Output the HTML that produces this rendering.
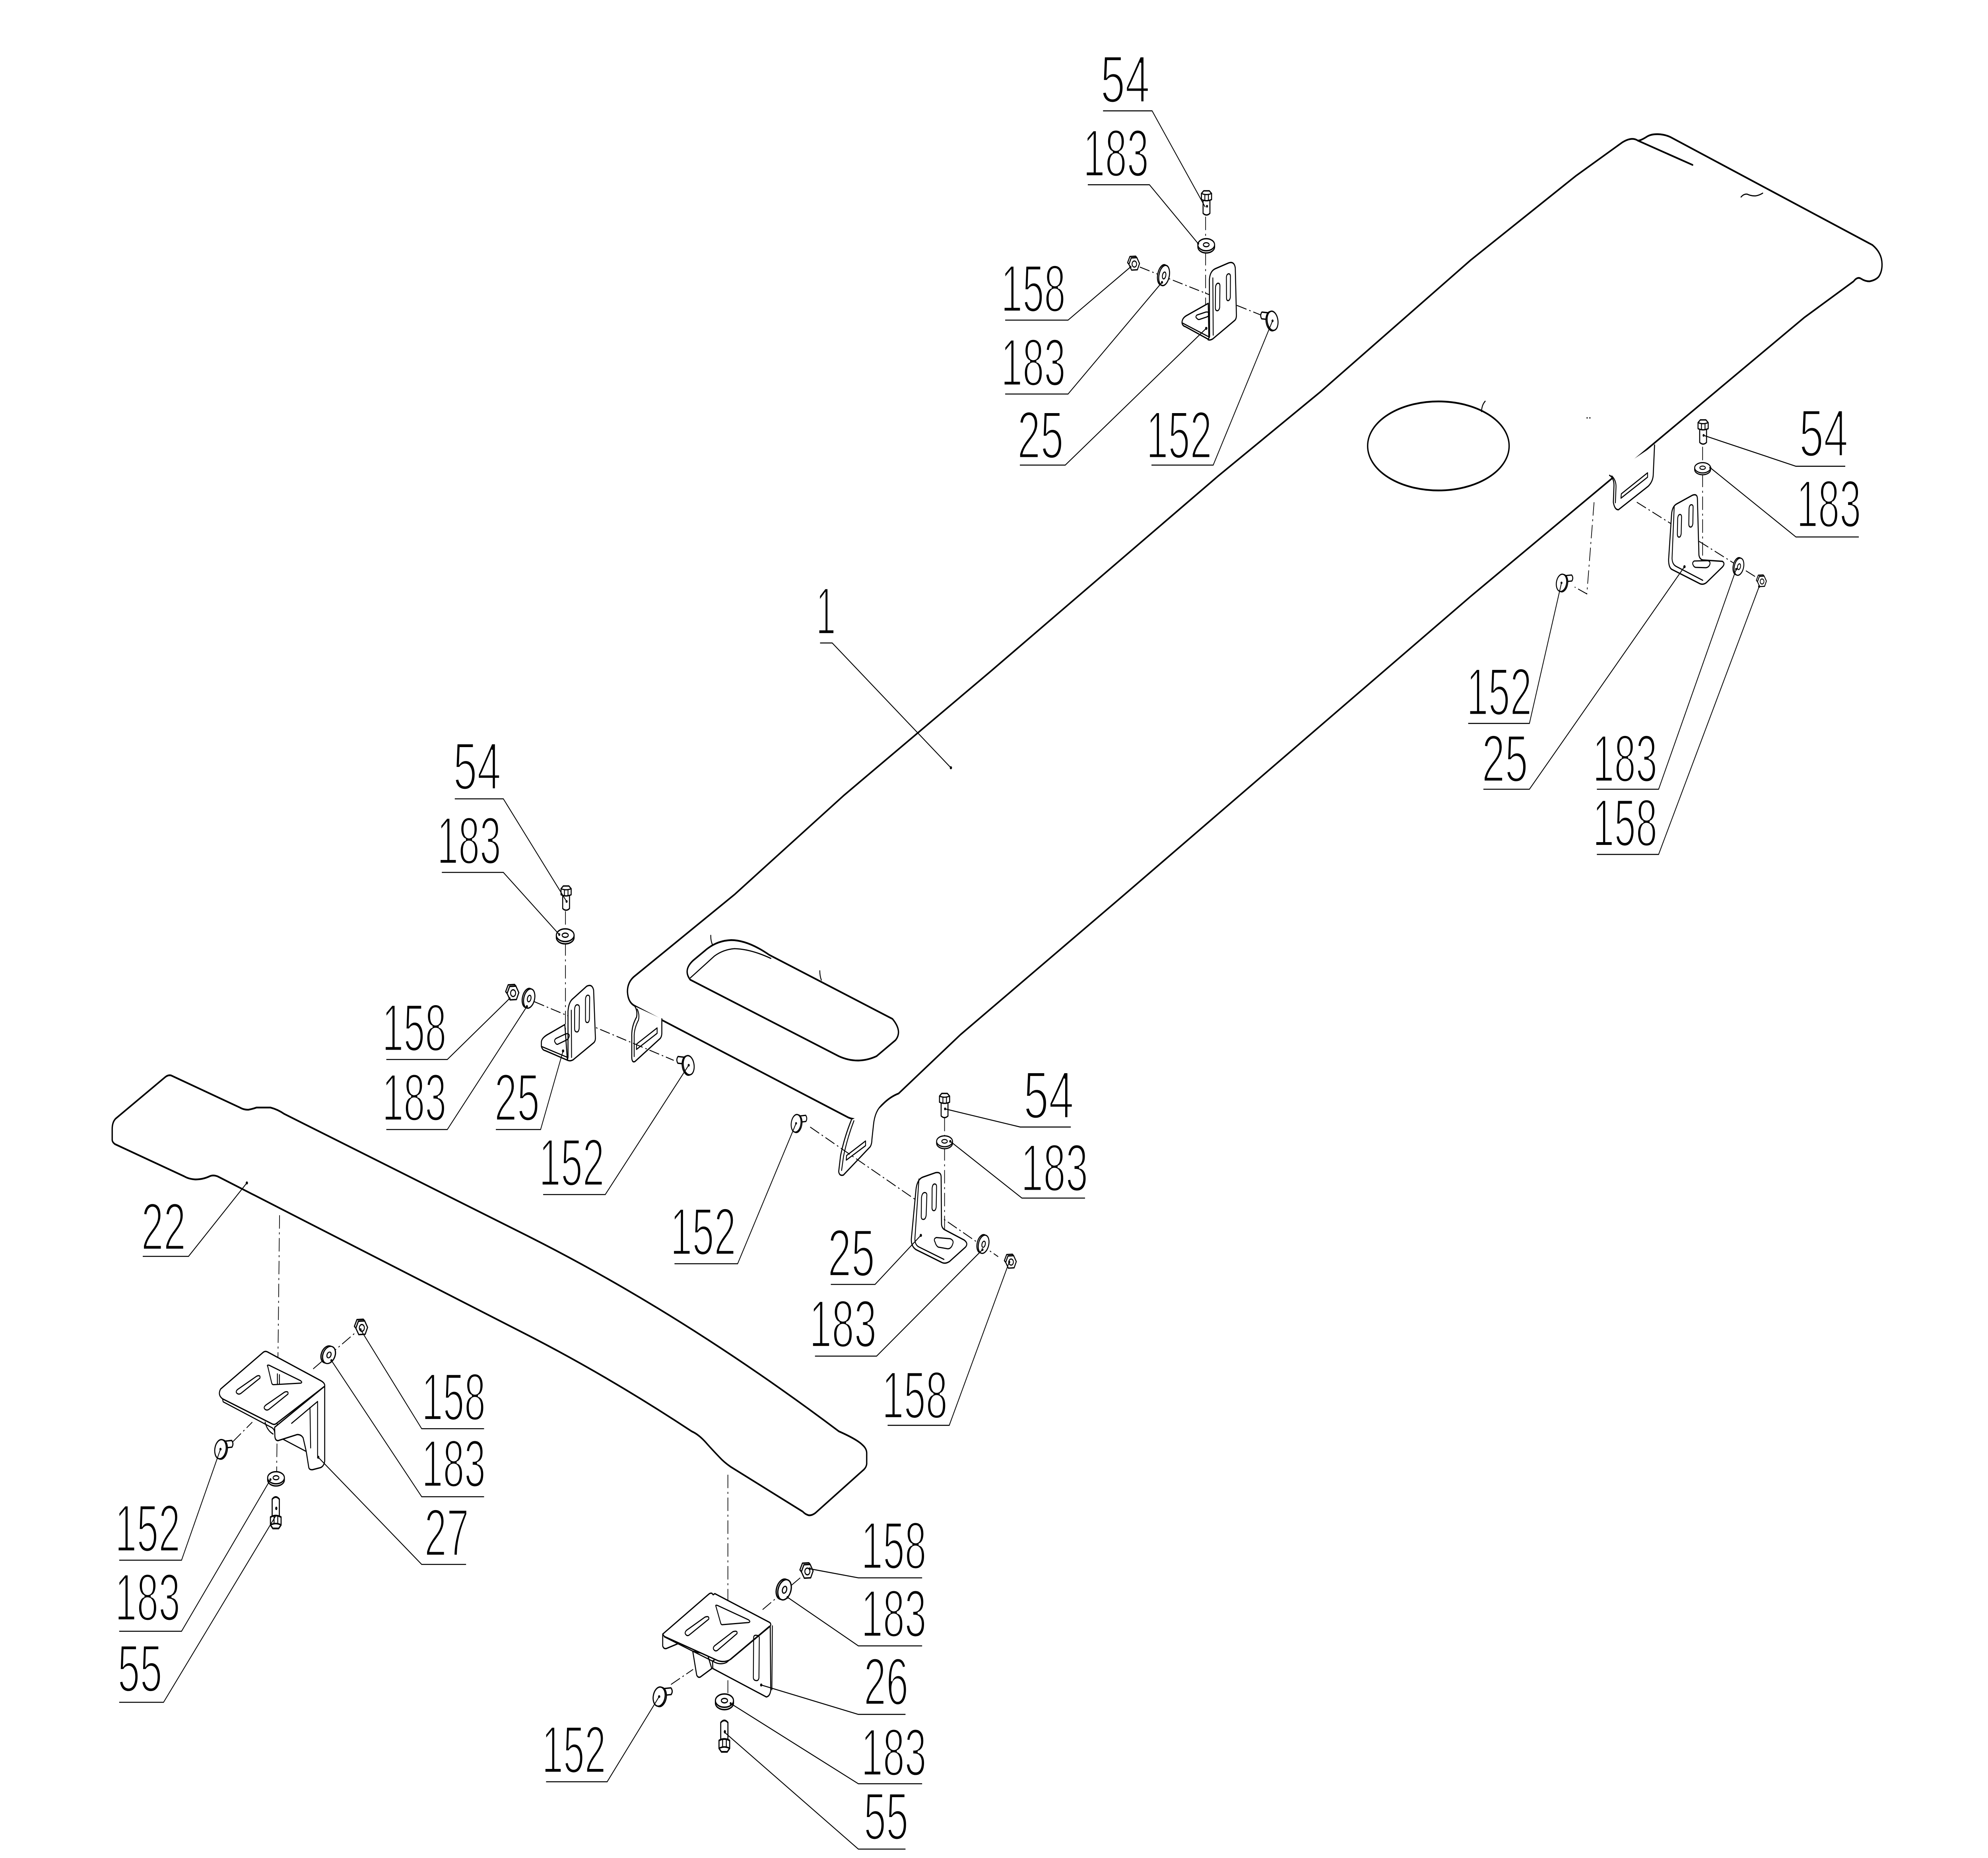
<!DOCTYPE html>
<html><head><meta charset="utf-8"><style>
html,body{margin:0;padding:0;background:#fff;overflow:hidden;width:100%;height:100%;}
svg#main{display:block;position:fixed;left:0;top:0;width:100vw;height:100vh;}
text{font-family:"Liberation Sans","DejaVu Sans",sans-serif;font-size:40px;fill:#000;stroke:#fff;stroke-width:1.35px;}
.o{fill:none;stroke:#000;stroke-width:1.05;stroke-linejoin:round;stroke-linecap:round;}
.p{fill:#fff;stroke:#000;stroke-width:0.8;stroke-linejoin:round;stroke-linecap:round;}
.q{fill:none;stroke:#000;stroke-width:0.7;stroke-linejoin:round;stroke-linecap:round;}
.l{fill:none;stroke:#000;stroke-width:0.6;}
.d{fill:none;stroke:#000;stroke-width:0.55;stroke-dasharray:8 2.2 1.2 2.2;}
.k{fill:#000;stroke:none;}
</style></head><body>
<svg id="main" xmlns="http://www.w3.org/2000/svg" viewBox="0 0 1568 1106.2" preserveAspectRatio="none">
<defs>
 <g id="hb">
  <path class="p" d="M-2.7,5.6 L-2.7,13.4 Q0,15.4 2.7,13.4 L2.7,5.6 Z"/>
  <path class="p" d="M-4,1.6 L-2.2,0 L2.2,0 L4,1.6 L4,5.2 Q0,6.6 -4,5.2 Z"/>
  <path class="q" d="M-4,1.6 Q0,2.9 4,1.6 M-1.3,2.5 L-1.3,5.8 M1.5,2.5 L1.5,5.8"/>
  <circle class="k" cx="0.4" cy="9.2" r="0.8"/>
 </g>
 <g id="wh">
  <path class="p" d="M-6.6,0 L-6.6,1.3 A6.6,3.6 0 0 0 6.6,1.3 L6.6,0 Z"/>
  <ellipse class="p" rx="6.6" ry="3.6"/>
  <ellipse class="q" rx="2.3" ry="1.2"/>
 </g>
 <g id="wv">
  <g transform="rotate(18)">
   <ellipse class="p" cx="-1.1" rx="4" ry="6.2"/>
   <ellipse class="p" rx="4" ry="6.2"/>
   <ellipse class="q" rx="1.3" ry="2.1"/>
  </g>
 </g>
 <g id="nut">
  <path class="p" d="M-4.4,0.2 L-5.5,-0.9 L-3.6,-4.7 L1.2,-4.9 L2.2,-4 L-2.5,-3.8 Z"/>
  <path class="p" d="M-2.5,-3.8 L2.2,-4 L4.4,-0.3 L2.6,3.6 L-2.2,3.8 L-4.4,0.2 Z"/>
  <circle class="q" cx="0.1" cy="0" r="1.9"/>
 </g>
 <g id="fb">
  <path class="p" d="M-1.5,-4.6 L-8.4,-5.2 Q-10.2,-3.3 -8.6,-1.2 L-1.5,-0.6 Z"/>
  <ellipse class="p" cx="-0.9" rx="4.2" ry="5.8" transform="rotate(-15)"/>
  <ellipse class="p" rx="4.2" ry="5.8" transform="rotate(-15)"/>
  <circle class="k" cx="0" cy="0" r="0.8"/>
 </g>
</defs>

<!-- ===== LABEL TEXT ===== -->
<text x="868" y="61" textLength="38.9" lengthAdjust="spacingAndGlyphs">54</text>
<text x="854.3" y="105" textLength="51.8" lengthAdjust="spacingAndGlyphs">183</text>
<text x="789.5" y="185.6" textLength="51" lengthAdjust="spacingAndGlyphs">158</text>
<text x="789.5" y="229.6" textLength="51" lengthAdjust="spacingAndGlyphs">183</text>
<text x="802.4" y="272.8" textLength="36.5" lengthAdjust="spacingAndGlyphs">25</text>
<text x="904.1" y="272.8" textLength="51.8" lengthAdjust="spacingAndGlyphs">152</text>
<text x="1419.1" y="271.7" textLength="38.6" lengthAdjust="spacingAndGlyphs">54</text>
<text x="1417" y="313.8" textLength="50.9" lengthAdjust="spacingAndGlyphs">183</text>
<text x="1156.7" y="425.7" textLength="51.5" lengthAdjust="spacingAndGlyphs">152</text>
<text x="1168.8" y="465.4" textLength="36.4" lengthAdjust="spacingAndGlyphs">25</text>
<text x="1256.2" y="465.4" textLength="51" lengthAdjust="spacingAndGlyphs">183</text>
<text x="1256.2" y="503.7" textLength="51" lengthAdjust="spacingAndGlyphs">158</text>
<text x="357.5" y="470" textLength="37.7" lengthAdjust="spacingAndGlyphs">54</text>
<text x="344.7" y="514.3" textLength="50.5" lengthAdjust="spacingAndGlyphs">183</text>
<text x="301.4" y="625.7" textLength="50.7" lengthAdjust="spacingAndGlyphs">158</text>
<text x="301.4" y="667.2" textLength="50.7" lengthAdjust="spacingAndGlyphs">183</text>
<text x="389.9" y="667.2" textLength="35.8" lengthAdjust="spacingAndGlyphs">25</text>
<text x="425.1" y="705.9" textLength="51.6" lengthAdjust="spacingAndGlyphs">152</text>
<text x="528.7" y="747.1" textLength="51.8" lengthAdjust="spacingAndGlyphs">152</text>
<text x="807.3" y="665.8" textLength="39.7" lengthAdjust="spacingAndGlyphs">54</text>
<text x="805.2" y="709.1" textLength="53" lengthAdjust="spacingAndGlyphs">183</text>
<text x="652.8" y="759.8" textLength="37.3" lengthAdjust="spacingAndGlyphs">25</text>
<text x="638.3" y="802" textLength="53.1" lengthAdjust="spacingAndGlyphs">183</text>
<text x="695.6" y="844.4" textLength="51.8" lengthAdjust="spacingAndGlyphs">158</text>
<text x="643.6" y="377.6" textLength="15.6" lengthAdjust="spacingAndGlyphs">1</text>
<text x="111.4" y="744.1" textLength="35.2" lengthAdjust="spacingAndGlyphs">22</text>
<text x="332.6" y="845.5" textLength="50.4" lengthAdjust="spacingAndGlyphs">158</text>
<text x="332.6" y="885.2" textLength="50.4" lengthAdjust="spacingAndGlyphs">183</text>
<text x="334.7" y="926.3" textLength="35.2" lengthAdjust="spacingAndGlyphs">27</text>
<text x="90.7" y="923.7" textLength="51.5" lengthAdjust="spacingAndGlyphs">152</text>
<text x="90.7" y="964.8" textLength="51.5" lengthAdjust="spacingAndGlyphs">183</text>
<text x="92.8" y="1007.1" textLength="35.2" lengthAdjust="spacingAndGlyphs">55</text>
<text x="679.2" y="934" textLength="51.5" lengthAdjust="spacingAndGlyphs">158</text>
<text x="679.2" y="974.5" textLength="51.5" lengthAdjust="spacingAndGlyphs">183</text>
<text x="681.3" y="1015" textLength="35.2" lengthAdjust="spacingAndGlyphs">26</text>
<text x="679.2" y="1057.1" textLength="51.5" lengthAdjust="spacingAndGlyphs">183</text>
<text x="681.3" y="1095.2" textLength="35.2" lengthAdjust="spacingAndGlyphs">55</text>
<text x="427.4" y="1055.5" textLength="50.5" lengthAdjust="spacingAndGlyphs">152</text>

<!-- ===== PART 1 : main panel ===== -->
<path class="o" d="M501,599 L669,665.3 Q679,668.5 690,662 L696.4,657.3 Q702,653 708.8,651 L757.4,616.1 L886.9,532.6 L1159.9,355.1 L1304.8,263.8 L1423,189.1 L1462,167.5 Q1465,164.5 1467.8,165.9 Q1471,167.5 1474.5,167.5 Q1479.5,166.8 1481.9,164.6 Q1484.6,161.5 1484.4,157 Q1484.2,150.5 1476.9,145.9 L1317.5,81.6 Q1313,80 1307.6,79.9 Q1302.5,79.8 1299.3,81.2 Q1294,83.8 1291.8,83.7 Q1287,81.2 1279.3,84.9 L1242.8,104.8 L1159.9,154.9 L1041.6,233.2 L960.5,283.6 L781.2,399.8 L665.8,473.4 L579.3,532.6 L500,581.5 Q494.8,585 494.9,590.5 Q495.3,597 501,599 Z"/>
<path class="o" d="M1291.8,83.7 L1335,98.2"/>
<path class="q" d="M1373.2,117.3 Q1375.5,115.3 1378.1,115.6 Q1381.5,116.8 1384.8,116.6 Q1387.5,116.3 1390.3,115"/>
<ellipse class="o" cx="1134.5" cy="265.5" rx="55.8" ry="26.5"/>
<path class="q" d="M1168.5,245 Q1168.8,241 1171.4,238.9"/>
<circle class="k" cx="1251.8" cy="248.8" r="0.45"/><circle class="k" cx="1254" cy="248.8" r="0.45"/>
<path class="o" d="M544.4,583.3 L661.5,628.8 Q676.5,634 691.4,628.8 L706.3,619.3 Q712,614 703.9,606.6 L606.7,568.5 Q590,559.8 576.8,559.7 Q565,560 556,566 L546.9,571.7 Q538.5,577.5 544.4,583.3 Z"/>
<path class="q" d="M544.5,582.2 L563.5,569.2 Q570.5,565.3 579.3,564.8 Q592,565 608,570.6"/>
<path class="q" d="M560.6,556.9 Q560.5,560 561.9,562.4 M646.6,578 Q646.6,581 647.8,583.5"/>
<path class="p" d="M500.8,599.2 Q503,602 502.1,605.5 Q498,611 498.3,617.2 L498.3,629.8 Q498.5,632.8 500.8,632 L520.8,618.2 Q522,617 522,615 L522,606.6"/>
<path class="q" d="M502,624.8 L502.1,621.6 L518.3,612 L518.3,615.2 Z M502.6,600.8 Q504.6,604 503.6,607.3 Q500,612.5 500.2,617.5 L500.2,629"/>
<path class="p" d="M671.5,666.8 Q666,677 663,688 L661.5,697.5 Q662,700.3 665.2,699.6 L686.4,682.7 Q687.7,681 687.7,678.4 L688.9,670 Q690,661 696.4,657.3"/>
<path class="q" d="M667.5,690.7 L667.7,688 L682.7,679.3 L682.7,682.1 Z M673.5,667.3 Q668.3,677.5 665.3,688.5 L663.8,696.8"/>
<path class="p" d="M1269.5,283 Q1273,284.5 1273,289 L1272.5,299 Q1273.5,303.5 1276.5,303.5 L1300,289.5 Q1304,286.5 1304,282 L1305,265"/>
<path class="q" d="M1278.5,296.6 L1278.8,294 L1299.5,281.5 L1299.5,284.1 Z M1271.3,283.4 Q1274.8,286 1274.6,290 L1274.1,299.3"/>
<circle class="k" cx="750" cy="457.1" r="0.9"/>

<!-- ===== PART 22 : bar ===== -->
<path class="o" d="M90.7,681.2 Q88.5,680 88.5,678.6 L88.5,672.2 Q88.5,667.5 92,665.5 L130.1,641.4 Q132.5,639.8 135,640.3 L189.2,659.4 Q192,660.7 195.8,660.7 Q199,660.3 202.3,659.4 L213.3,659.4 Q219,660.5 224.2,663.2 L414.2,735.1 Q537.4,781.7 661.7,852.2 Q676,857 680.3,860.3 Q683.6,862.5 683.6,865.2 L683.6,871.6 Q683.3,873.5 681.4,874.9 L643.1,900.8 Q640,902.5 637.6,902.1 Q635,901.5 633.2,900 L576.3,873.3 Q571,870.5 567.5,867.6 Q561,862.5 556.6,858.7 Q551,854 545.6,852.2 Q479.5,819.3 414.2,794.1 L171.7,700.4 Q168,699.3 165.1,700.4 Q160,702.2 154.2,702.2 Q149,702 145.4,700.4 Z"/>
<circle class="k" cx="194.7" cy="704.3" r="0.9"/>

<!-- ===== DASH-DOT LINES ===== -->
<path class="d" d="M950.9,129 L950.9,141.5 M950.9,150 L950.9,189"/>
<path class="d" d="M899,159 L954,175.5 M975.5,181.8 L996,188"/>
<path class="d" d="M1342.9,266 L1342.9,275 M1342.9,282 L1342.9,334"/>
<path class="d" d="M1291,299 L1388,345"/>
<path class="d" d="M1257.3,299 L1251.6,353.6 L1242,349.5"/>
<path class="d" d="M446,542.5 L446,552.6 M446,561 L446,619"/>
<path class="d" d="M421.5,596.4 L531.4,631.3"/>
<path class="d" d="M745,665.5 L745,676 M745,683 L745,742"/>
<path class="d" d="M639,671 L787.3,748.2"/>
<path class="d" d="M220.5,723.5 L218.1,884"/>
<path class="d" d="M247,815 L281,793"/>
<path class="d" d="M183.7,858.3 L199,846.7"/>
<path class="d" d="M574.1,878 L574.1,1008"/>
<path class="d" d="M601.5,958.3 L633.2,938.1"/>
<path class="d" d="M529.2,1002.9 L546.7,993.9"/>

<!-- ===== BRACKETS 25 ===== -->
<g>
 <path class="p" d="M953,180.6 L935.6,188 Q932.2,189.6 932.3,192.2 Q932.6,194 935,194.5 L953.5,202.2 Z"/>
 <path class="p" d="M954,200.5 L953.9,166.5 Q954.3,161.5 958.5,160 L968.9,156.6 Q973.5,155.3 974.3,159.5 L975.2,187.5 Q975.3,190 973.5,191 L956.5,201.8 Q954.2,202.8 952.8,202.2 Z"/>
 <path class="q" d="M956.6,165.5 L956.9,199.5 M932.3,192.2 L952.8,200.3"/>
 <path class="q" d="M958.7,171 Q959,169 960.6,168.6 Q962.2,168.6 962.2,170.2 L962,183 Q961.6,184.8 960.2,185 Q958.6,185 958.6,183.4 Z"/>
 <path class="q" d="M967.3,165 Q967.5,163.3 969,163 Q970.5,163 970.5,164.6 L970.4,177 Q970,178.8 968.7,179 Q967.4,179 967.4,177.4 Z"/>
 <path class="q" d="M944,189.5 Q942.5,188.8 944,187.6 L951,185.8 Q953.8,185.5 953.6,187 Q953.4,188.4 951.5,188.8 L946,190.2 Q944.8,190.4 944,189.5 Z"/>
 <circle class="k" cx="951.4" cy="195.5" r="0.9"/>
</g>
<g>
 <path class="p" d="M1318.4,338.9 Q1316,337.5 1316.1,333 L1318.4,306.5 Q1318.8,301.5 1322.5,300 L1335,294.8 Q1338.8,293.8 1338.8,297 L1340,330.5 Q1340.6,333 1343,333.4 L1358.5,334.2 Q1361,335.5 1358.5,337.6 L1346,346.8 Q1343.5,348.3 1341,347.6 Z"/>
 <path class="q" d="M1320.5,301.5 L1318.8,332.5 Q1319,336 1322,337.2 L1343,345.5"/>
 <path class="q" d="M1323.2,309 Q1323.4,306.5 1325,306.3 Q1326.4,306.3 1326.3,308 L1326,317.7 Q1325.6,319.8 1324.3,319.8 Q1323,319.7 1323,318 Z"/>
 <path class="q" d="M1332.2,303 Q1332.4,300.6 1334,300.5 Q1335.5,300.5 1335.4,302 L1335.2,311.7 Q1334.8,313.8 1333.4,313.8 Q1332,313.7 1332,312 Z"/>
 <path class="q" d="M1335.5,336.5 Q1334.3,335 1336.3,334 L1347,333.8 Q1349.3,334.3 1348.6,336 Q1347.8,337.8 1345.5,338 L1337.5,337.8 Q1336.2,337.7 1335.5,336.5 Z"/>
 <circle class="k" cx="1328.6" cy="337.4" r="0.9"/>
</g>
<g>
 <path class="p" d="M445.5,610 L431.3,616.2 Q427,618.3 427,620.5 L427,623 Q427.8,625.2 430,625.5 L447.5,631.2 Z"/>
 <path class="p" d="M448,629.5 L448,602.1 Q448.5,596.5 452,594.5 L462.7,587.2 Q467,585.5 468.2,589.5 L469.6,617.5 Q469.8,620 468,621 L452,631 Q449.5,632 447.5,631.2 Z"/>
 <path class="q" d="M450.6,601.5 L450.8,629.5 M427,623 L447.5,629.5"/>
 <path class="q" d="M453.2,601 Q453.4,598.4 455.2,598.2 Q457,598.2 457,600 L456.8,612.3 Q456.4,614.4 455,614.4 Q453.2,614.3 453.2,612.4 Z"/>
 <path class="q" d="M461.8,595 Q462,592.7 463.6,592.5 Q465.2,592.5 465.1,594.2 L464.9,606.7 Q464.6,608.8 463.2,608.8 Q461.8,608.7 461.8,607 Z"/>
 <path class="q" d="M438,620.8 Q436.6,619.5 438.5,618.3 L446,615.6 Q449.2,615 449,616.8 Q448.8,618.3 446.8,619.2 L440,621.7 Q438.8,622 438,620.8 Z"/>
 <circle class="k" cx="444.1" cy="625.7" r="0.9"/>
</g>
<g>
 <path class="p" d="M722.5,744 Q718.5,742 718.8,737.6 L722.5,708 Q723.5,702 728,700.8 L737.8,698.2 Q742,697.5 742.3,700.5 L742.6,729 Q743,731.5 745.5,732.3 L760.5,738.3 Q764,740.3 761.5,742.5 L749,751 Q745.5,752.8 742.5,751.5 Z"/>
 <path class="q" d="M724.8,702 L721.6,737.5 Q721.6,741 724.5,742.3 L744.5,749.8"/>
 <path class="q" d="M726.8,713 Q727.3,710.2 729.2,710 Q731.3,710 731,712 L730.5,723.5 Q730,726 728.3,726 Q726.5,726 726.6,724 Z"/>
 <path class="q" d="M735.2,707.5 Q735.5,705 737.1,704.9 Q738.8,704.9 738.7,706.7 L738.4,718.6 Q738,720.8 736.5,720.8 Q735,720.7 735.1,718.8 Z"/>
 <path class="q" d="M737.5,739.5 Q736,737.5 738.5,736.8 L749.5,737.5 Q752.5,738.5 751.5,740.5 Q750.3,743.5 747.5,743.5 L740,742.5 Q738.3,741.7 737.5,739.5 Z"/>
 <circle class="k" cx="726.3" cy="735.5" r="0.9"/>
</g>

<!-- ===== BRACKET 27 ===== -->
<g>
 <path class="p" d="M256.1,825.3 L256.1,869.9 Q255.5,873 252.7,873.8 L246.6,875 Q243.8,875.2 243.5,873.5 L241.5,864 L239.1,856.1 Q237.5,854 234.4,854.1 L219.4,857.7 Q217,857.8 216.8,855 L216.6,849.8 Z"/>
 <path class="p" d="M175.5,832.8 Q171.5,830.5 174,827 L207.5,805.2 Q209.1,804.2 211,804.9 L253,822 Q256.5,823.5 256.1,825.3 L217.8,847.6 Q216.5,848.4 214.8,847.8 Z"/>
 <path class="q" d="M175.5,832.8 L176,834.6 L214.5,850 Q216.5,851 216.6,853"/>
 <path class="q" d="M230,847.4 L250.5,834.4 L250.5,866.8 M244.5,838 L245,862 M223.3,856.9 L241.1,864"/>
 <path class="q" d="M209.1,846.7 Q210.5,851.5 215.4,853.8"/>
 <path class="q" d="M187,829.6 Q185.4,828.6 187.5,827.2 L202.5,819.3 Q205.6,818.4 205,820.5 L190,829.6 Q188.3,830.4 187,829.6 Z"/>
 <path class="q" d="M209.1,839.1 Q207.4,838 209.6,836.6 L224.5,828.8 Q227.8,828 227.1,830 L212.1,839.1 Q210.4,839.9 209.1,839.1 Z"/>
 <path class="q" d="M211.2,813.6 Q210.2,812.5 212.2,812.8 L237,822 Q239,823.2 237,823.5 L215.6,824.4 Q214.6,824.3 214.3,823.4 Z"/>
 <path class="q" d="M218.8,818 L218.8,824 M220.4,818.5 L220.4,824"/>
 <circle class="k" cx="251" cy="867.6" r="0.9"/>
</g>

<!-- ===== BRACKET 26 ===== -->
<g>
 <path class="p" d="M546.4,983.1 L549.5,997.3 Q550.5,999 552.3,998.5 L561.4,993.4 L558,985 Z"/>
 <path class="p" d="M607.5,966.2 L607.9,1006.4 Q607.2,1010 604.4,1010.3 L562.2,993.4 L562,989 Z"/>
 <path class="p" d="M522.7,972.9 L522.7,980 Q523.5,981.8 525.5,981.5 L535.3,978.4 L530,975 Z"/>
 <path class="p" d="M522.7,972.9 L558.9,949.2 Q560.2,948.3 561.5,948.6 L562.5,949.5 L563.8,948.8 L606.7,965.8 Q609,967 607,968.5 L576.5,987.8 Q572,990 566.5,988.8 L524,974.3 Z"/>
 <path class="q" d="M523.9,974.5 L564.1,989.8 Q568.5,991.3 573,989.8 L606.9,968.2 M609.2,968 L608.8,1006"/>
 <path class="q" d="M594.4,975 Q594.5,973.7 595.8,973.6 Q598.8,973.5 598.9,975 L598.6,999 Q598.2,1000.6 596.8,1000.6 Q594.4,1000.5 594.2,999 Z"/>
 <path class="q" d="M541,973.2 Q539.6,972.2 541.4,970.7 L556,962.8 Q559.6,961.8 559,964 L543.5,973.5 Q542,974.2 541,973.2 Z"/>
 <path class="q" d="M563.2,982.3 Q561.8,981.2 563.7,979.8 L578,971.5 Q581.9,970.5 581.3,972.6 L565.8,982.6 Q564.2,983.3 563.2,982.3 Z"/>
 <path class="q" d="M564.7,956.4 Q564,955.4 565.8,955.8 L590.4,964.4 Q592.5,965.6 590.4,966 L569.5,967.3 Q568.7,967.2 568.4,966.3 Z"/>
 <circle class="k" cx="600.4" cy="1003.2" r="0.9"/>
</g>

<!-- ===== SMALL PARTS ===== -->
<use href="#hb" transform="translate(951.6,113.6)"/>
<use href="#hb" transform="translate(1343.3,250)"/>
<use href="#hb" transform="translate(446.5,527.5)"/>
<use href="#hb" transform="translate(745,651)"/>
<use href="#hb" transform="translate(217.5,910) scale(1.05,-1.3)"/>
<use href="#hb" transform="translate(571.3,1043) scale(1.05,-1.3)"/>
<use href="#wh" transform="translate(951.4,145.7)"/>
<use href="#wh" transform="translate(1342.9,278.5) scale(0.95,0.85)"/>
<use href="#wh" transform="translate(445.8,556.8) scale(1.06,1.05)"/>
<use href="#wh" transform="translate(745,679.5) scale(0.95,0.9)"/>
<use href="#wh" transform="translate(217.7,879.8)"/>
<use href="#wh" transform="translate(571.4,1012.5) scale(1.08,1.1)"/>
<use href="#wv" transform="translate(918.2,164)"/>
<use href="#wv" transform="translate(1371.6,337.4) scale(0.9,0.85)"/>
<use href="#wv" transform="translate(417.4,594.5) scale(1.05,0.95)"/>
<use href="#wv" transform="translate(775.8,740.8) scale(1,0.9)"/>
<use href="#wv" transform="translate(259.5,806.7) scale(1.2,0.85)"/>
<use href="#wv" transform="translate(618.8,946.5) scale(1.25,1)"/>
<use href="#nut" transform="translate(894.6,157.2) scale(0.95)"/>
<use href="#nut" transform="translate(1389.7,346.2) scale(0.8)"/>
<use href="#nut" transform="translate(404.6,591.3) scale(1.05)"/>
<use href="#nut" transform="translate(797.4,751.4) scale(0.95)"/>
<use href="#nut" transform="translate(285.3,790.6) scale(1.05)"/>
<use href="#nut" transform="translate(636.7,935.6) scale(1.05)"/>
<use href="#fb" transform="translate(1003.7,191)"/>
<use href="#fb" transform="translate(543.2,634.2)"/>
<use href="#fb" transform="translate(1231.6,347) scale(-0.95,0.9)"/>
<use href="#fb" transform="translate(627.9,668.8) scale(-0.9,0.92)"/>
<use href="#fb" transform="translate(173.9,862.8) scale(-1.05,1)"/>
<use href="#fb" transform="translate(519.9,1010.1) scale(-1.1,1)"/>

<!-- ===== LEADERS ===== -->
<g class="l">
 <path d="M870,66 L908.7,66 L950.6,123.3"/>
 <path d="M858,110 L906.6,110 L945,145"/>
 <path d="M792.8,190.6 L842.4,190.6 L891.6,159"/>
 <path d="M792.8,234.6 L842.4,234.6 L916.5,168.1"/>
 <path d="M804.4,276.9 L840.2,276.9 L951.4,195.5"/>
 <path d="M908.2,276.9 L956.9,276.9 L1003.7,191"/>
 <path d="M1455.4,277.6 L1416.5,277.6 L1343.7,259.2"/>
 <path d="M1466.1,319.7 L1416.5,319.7 L1349,278.5"/>
 <path d="M1158,430.7 L1206.3,430.7 L1231.6,347"/>
 <path d="M1170,469.9 L1206.3,469.9 L1328.6,337.4"/>
 <path d="M1259.5,469.9 L1308.2,469.9 L1369.4,338.9"/>
 <path d="M1259.5,508.7 L1308.2,508.7 L1387.5,349.2"/>
 <path d="M358.7,475.6 L397,475.6 L446.9,536.7"/>
 <path d="M348.5,519.4 L397,519.4 L441.1,556.4"/>
 <path d="M304.7,630.8 L352.8,630.8 L401.9,594.5"/>
 <path d="M304.7,672.5 L352.8,672.5 L415.6,599.2"/>
 <path d="M391.1,672.5 L426.4,672.5 L444.1,625.7"/>
 <path d="M428.4,711.2 L477.4,711.2 L543.2,634.2"/>
 <path d="M532,752.4 L581.8,752.4 L627.9,668.8"/>
 <path d="M844.6,671 L804.7,671 L745.4,660.2"/>
 <path d="M855.8,713.3 L806,713.3 L749.5,679.5"/>
 <path d="M655.3,764.7 L690.2,764.7 L726.3,735.5"/>
 <path d="M642.8,807.4 L691.4,807.4 L774.9,744"/>
 <path d="M700.1,848.6 L748.7,848.6 L796,751.4"/>
 <path d="M646.8,382.8 L656.4,382.8 L750,457.1"/>
 <path d="M112.6,748 L148.7,748 L194.7,704.3"/>
 <path d="M381.8,850.6 L332.6,850.6 L284.4,791.6"/>
 <path d="M381.8,891.1 L332.6,891.1 L261.4,810"/>
 <path d="M367.6,931.4 L332.6,931.4 L251,867.6"/>
 <path d="M94,928.9 L143.2,928.9 L173.9,862.8"/>
 <path d="M94,971.2 L143.2,971.2 L213.3,880.9"/>
 <path d="M94,1013.5 L129,1013.5 L217.9,902"/>
 <path d="M727.3,939.4 L677,939.4 L638.7,934"/>
 <path d="M727.3,979.9 L677,979.9 L621.2,951"/>
 <path d="M714.2,1020.7 L677,1020.7 L600.4,1003.2"/>
 <path d="M727.3,1062 L677,1062 L576.3,1014.2"/>
 <path d="M714.2,1100.9 L677,1100.9 L571.7,1031.5"/>
 <path d="M430.7,1060.8 L478.9,1060.8 L519.9,1010.1"/>
</g>
<g class="k">
 <circle cx="945" cy="145" r="0.8"/><circle cx="891.6" cy="159" r="0.8"/><circle cx="916.5" cy="168.1" r="0.8"/>
 <circle cx="1349" cy="278.5" r="0.8"/><circle cx="1369.4" cy="338.9" r="0.8"/><circle cx="1387.5" cy="349.2" r="0.8"/>
 <circle cx="441.1" cy="556.4" r="0.8"/><circle cx="401.9" cy="594.5" r="0.8"/><circle cx="415.6" cy="599.2" r="0.8"/>
 <circle cx="749.5" cy="679.5" r="0.8"/><circle cx="774.9" cy="744" r="0.8"/><circle cx="796" cy="751.4" r="0.8"/>
 <circle cx="284.4" cy="791.6" r="0.8"/><circle cx="261.4" cy="810" r="0.8"/><circle cx="213.3" cy="880.9" r="0.8"/>
 <circle cx="638.7" cy="934" r="0.8"/><circle cx="621.2" cy="951" r="0.8"/><circle cx="576.3" cy="1014.2" r="0.8"/>
</g>
</svg>
</body></html>
